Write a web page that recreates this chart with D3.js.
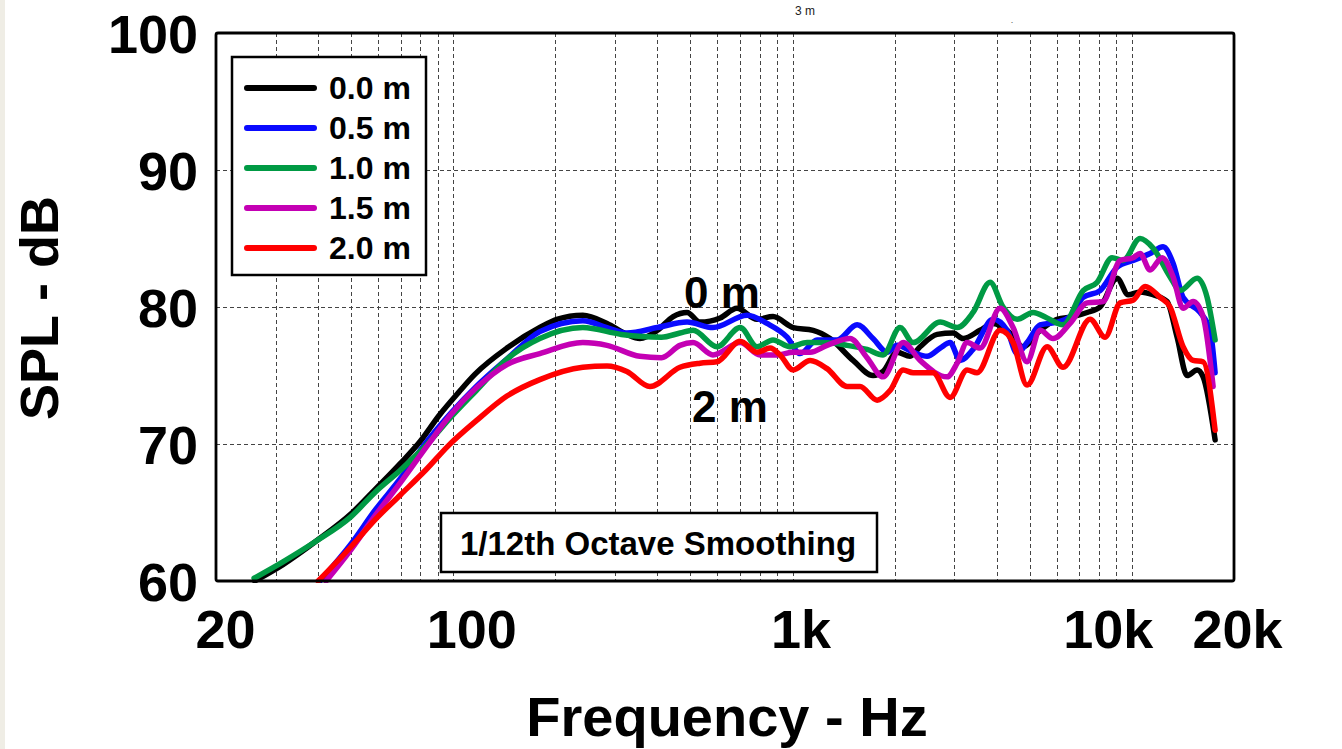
<!DOCTYPE html>
<html>
<head>
<meta charset="utf-8">
<script src="https://cdn.jsdelivr.net/npm/d3@7"></script>
<style>
  html, body { margin: 0; padding: 0; background: #ffffff; }
  svg { display: block; font-family: "Liberation Sans", Arial, Helvetica, sans-serif; }
</style>
</head>
<body>
<svg id="chart" width="1342" height="749"></svg>
<script>
// Axis ticks and labels
const xTicks = [20, 100, 1000, 10000, 20000];
const xTickLabels = ["20", "100", "1k", "10k", "20k"];
const yTicks = [60, 70, 80, 90, 100];
const gridFreqs = [30, 40, 50, 60, 70, 80, 90, 100, 200, 300, 400, 500, 600, 700, 800, 900,
                   1000, 2000, 3000, 4000, 5000, 6000, 7000, 8000, 9000, 10000];
const gridLevels = [70, 80, 90];

// Series: listening distance and colour
const seriesNames = ["0.0 m", "0.5 m", "1.0 m", "1.5 m", "2.0 m"];
const seriesColors = ["#000000", "#0a0aff", "#009a44", "#c400b4", "#ff0000"];

// SPL response, [frequency Hz, dB]
const spl00 = [[26,60.0],[31.5,61.2],[39.4,62.9],[50,64.9],[59,66.7],[70,68.6],[80,70.2],[91,72.1],
  [104,73.8],[116,75.1],[144,77.0],[180,78.5],[202,79.1],[241,79.4],[284,78.8],[325,78.0],[355,77.7],
  [400,78.3],[445,79.3],[489,79.6],[534,78.9],[612,79.2],[686,79.9],[786,79.1],[876,79.3],[1004,78.5],
  [1150,78.3],[1290,77.7],[1508,76.1],[1727,75.0],[1849,75.3],[2033,76.7],[2220,76.4],[2376,77.1],
  [2668,78.0],[2974,78.1],[3182,77.7],[3571,78.3],[3900,78.8],[4378,78.1],[4780,77.1],[5366,78.3],
  [6020,79.1],[6710,79.3],[7382,79.6],[8062,80.0],[9048,82.1],[9748,80.9],[10574,81.1],[11550,80.9],
  [12700,80.4],[13592,77.8],[14548,75.0],[15570,75.4],[16220,74.9],[17594,70.3]];

const spl05 = [[40.5,60.0],[50,62.7],[59,65.2],[70,67.5],[82,69.9],[98,72.2],[117,74.2],[144,76.2],
  [180,78.2],[241,79.0],[284,78.5],[325,78.1],[400,78.5],[489,78.9],[583,78.5],[735,79.4],[841,78.8],
  [964,77.8],[1053,76.6],[1181,77.6],[1353,77.6],[1550,78.7],[1727,77.7],[1900,76.7],[2033,77.2],
  [2266,76.7],[2492,76.4],[2723,77.0],[2914,77.4],[3118,76.1],[3404,76.9],[3900,79.1],[4290,78.3],
  [4590,76.6],[4911,77.4],[5366,78.7],[6020,78.9],[6575,79.3],[7185,80.7],[8062,81.2],[9048,82.9],
  [10084,83.4],[11316,83.9],[12360,84.4],[13228,83.2],[14158,80.7],[15890,79.6],[17008,78.3],[17594,75.2]];

const spl10 = [[25.9,60.2],[31.5,61.4],[39.4,62.9],[50,64.7],[59,66.5],[70,68.1],[84,70.0],[98,71.9],
  [117,73.9],[144,76.2],[180,77.7],[241,78.5],[313,78.0],[411,77.8],[466,78.1],[509,78.3],[599,77.1],
  [701,78.5],[786,77.1],[876,77.6],[984,77.1],[1104,77.4],[1230,77.4],[1448,77.2],[1658,76.9],[1849,76.5],
  [2074,78.5],[2266,77.4],[2723,78.9],[3056,78.5],[3404,79.6],[3822,81.8],[4174,80.0],[4590,79.1],
  [5116,79.6],[5626,79.2],[6271,78.7],[7185,81.2],[7900,81.8],[8746,83.6],[9422,83.4],[10574,85.0],
  [11550,84.3],[12962,82.2],[13870,81.2],[15570,82.1],[16664,80.7],[17594,77.6]];

const spl15 = [[42.2,60.0],[50,62.3],[59,64.8],[70,67.2],[84,69.9],[98,72.1],[117,74.1],[144,75.8],
  [180,76.6],[241,77.4],[284,77.2],[355,76.4],[411,76.3],[466,77.2],[509,77.4],[583,76.5],[701,77.4],
  [802,76.5],[901,76.5],[1004,76.7],[1127,76.7],[1264,77.2],[1478,77.7],[1658,76.3],[1849,74.9],
  [2118,77.4],[2376,76.1],[2855,74.9],[3056,75.9],[3270,77.4],[3571,77.0],[4090,79.9],[4468,78.5],
  [4911,76.0],[5366,78.3],[5860,77.7],[6575,78.8],[7382,80.3],[8228,80.4],[9233,83.4],[10084,83.6],
  [10574,83.9],[11316,82.7],[12278,83.6],[13228,82.2],[14158,79.9],[15154,80.4],[16220,79.3],[17356,74.2]];

const spl20 = [[40,60.0],[50,62.5],[59,64.5],[70,66.3],[83,68.1],[97,69.9],[117,71.7],[144,73.5],[180,74.7],
  [241,75.6],[284,75.7],[325,75.3],[380,74.2],[466,75.6],[534,75.9],[599,76.0],[701,77.5],[786,76.7],
  [859,77.0],[919,76.5],[1004,75.4],[1127,76.1],[1264,75.5],[1448,74.2],[1581,74.2],[1775,73.2],
  [1938,73.9],[2118,75.4],[2266,75.2],[2596,75.2],[2914,73.4],[3270,75.4],[3498,75.2],[4090,78.3],
  [4468,77.4],[4911,74.3],[5626,77.1],[6271,75.6],[7533,79.1],[8340,77.8],[9233,80.3],[10084,80.5],
  [10940,81.5],[12112,80.7],[12962,80.0],[14158,77.1],[15154,76.1],[16220,76.0],[17594,71.0]];

const seriesData = [spl00, spl05, spl10, spl15, spl20];

// Layout
const plot = { left: 216, right: 1234, top: 33, bottom: 581 };
const svg = d3.select("#chart");
const bold = "bold";

svg.append("rect").attr("x", 0).attr("y", 0).attr("width", 5).attr("height", 749).attr("fill", "#efede5");

const x = d3.scaleLog().domain([20, 20000]).range([plot.left, plot.right]);
const y = d3.scaleLinear().domain([60, 100]).range([plot.bottom, plot.top]);

// Grid
const grid = svg.append("g").attr("stroke", "#444").attr("stroke-width", 1).attr("stroke-dasharray", "4,3");
grid.selectAll("line.v").data(gridFreqs).join("line").attr("class", "v")
  .attr("x1", d => Math.round(x(d)) + 0.5).attr("x2", d => Math.round(x(d)) + 0.5)
  .attr("y1", plot.top).attr("y2", plot.bottom);
grid.selectAll("line.h").data(gridLevels).join("line").attr("class", "h")
  .attr("y1", d => Math.round(y(d)) + 0.5).attr("y2", d => Math.round(y(d)) + 0.5)
  .attr("x1", plot.left).attr("x2", plot.right);

// Curves
svg.append("clipPath").attr("id", "plotClip").append("rect")
  .attr("x", plot.left).attr("y", plot.top - 2)
  .attr("width", plot.right - plot.left).attr("height", plot.bottom - plot.top + 4);

const line = d3.line().x(d => x(d[0])).y(d => y(d[1])).curve(d3.curveMonotoneX);
svg.append("g").attr("clip-path", "url(#plotClip)")
  .selectAll("path").data(seriesData).join("path")
  .attr("d", line).attr("fill", "none")
  .attr("stroke", (d, i) => seriesColors[i]).attr("stroke-width", 5.5)
  .attr("stroke-linejoin", "round").attr("stroke-linecap", "round");

// Frame
svg.append("rect").attr("x", plot.left).attr("y", plot.top)
  .attr("width", plot.right - plot.left).attr("height", plot.bottom - plot.top)
  .attr("fill", "none").attr("stroke", "#000").attr("stroke-width", 2.8).attr("rx", 2);

// Y axis
const yAxis = d3.axisLeft(y).tickValues(yTicks).tickSize(0).tickPadding(0).tickFormat(d3.format("d"));
const gy = svg.append("g").attr("transform", "translate(198,0)").call(yAxis);
gy.select(".domain").remove();
gy.selectAll("text").attr("font-size", 54).attr("font-weight", bold).attr("fill", "#000")
  .attr("dy", "0.36em").attr("font-family", "Liberation Sans, Arial, sans-serif");

// X axis
const xNudge = { 20: 9, 100: 18, 1000: 8, 10000: -24, 20000: 3 };
const xAxis = d3.axisBottom(x).tickValues(xTicks).tickSize(0).tickPadding(0)
  .tickFormat((d, i) => xTickLabels[i]);
const gx = svg.append("g").attr("transform", "translate(0,648)").call(xAxis);
gx.select(".domain").remove();
gx.selectAll(".tick text").attr("font-size", 54).attr("font-weight", bold).attr("fill", "#000")
  .attr("dy", 0).attr("dx", d => xNudge[d]).attr("font-family", "Liberation Sans, Arial, sans-serif");

// Axis titles
svg.append("text").attr("transform", "translate(58,308) rotate(-90)")
  .attr("text-anchor", "middle").attr("font-size", 54).attr("font-weight", bold).text("SPL - dB");
svg.append("text").attr("x", 727).attr("y", 736).attr("text-anchor", "middle")
  .attr("font-size", 56).attr("font-weight", bold).text("Frequency - Hz");

// Small header text
svg.append("text").attr("x", 805).attr("y", 15).attr("text-anchor", "middle")
  .attr("font-size", 12).attr("fill", "#222").text("3 m");
svg.append("text").attr("x", 1012).attr("y", 23).attr("text-anchor", "middle")
  .attr("font-size", 9).attr("fill", "#555").text(".");

// Legend
const legend = svg.append("g");
legend.append("rect").attr("x", 232).attr("y", 57).attr("width", 194).attr("height", 218)
  .attr("fill", "#fff").attr("stroke", "#000").attr("stroke-width", 2.5);
const items = legend.selectAll("g.item").data(seriesNames).join("g").attr("class", "item")
  .attr("transform", (d, i) => `translate(0,${88 + i * 40})`);
items.append("line").attr("x1", 247).attr("x2", 314).attr("y1", 0).attr("y2", 0)
  .attr("stroke", (d, i) => seriesColors[i]).attr("stroke-width", 6).attr("stroke-linecap", "round");
items.append("text").attr("x", 329).attr("y", 11).attr("font-size", 32).attr("font-weight", bold)
  .text(d => d);

// Curve annotations
svg.append("text").attr("x", 722).attr("y", 308).attr("text-anchor", "middle")
  .attr("font-size", 44).attr("font-weight", bold).text("0 m");
svg.append("text").attr("x", 730).attr("y", 422).attr("text-anchor", "middle")
  .attr("font-size", 44).attr("font-weight", bold).text("2 m");

// Smoothing note
svg.append("rect").attr("x", 441).attr("y", 513).attr("width", 436).attr("height", 59)
  .attr("fill", "#fff").attr("stroke", "#000").attr("stroke-width", 2.5);
svg.append("text").attr("x", 658).attr("y", 555).attr("text-anchor", "middle")
  .attr("font-size", 33).attr("font-weight", bold).text("1/12th Octave Smoothing");
</script>
</body>
</html>
